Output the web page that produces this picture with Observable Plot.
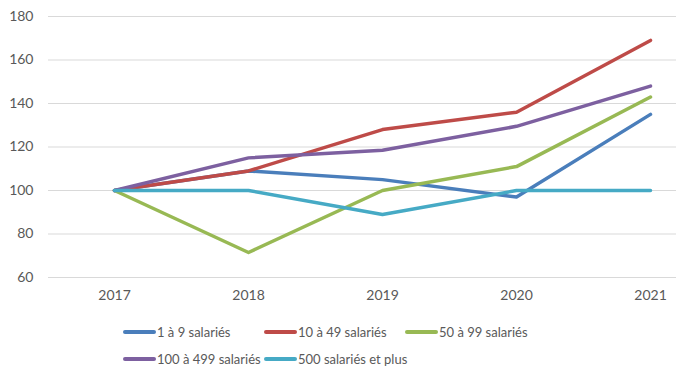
<!DOCTYPE html>
<html><head><meta charset="utf-8">
<script src="https://cdn.jsdelivr.net/npm/d3@7"></script>
<script src="https://cdn.jsdelivr.net/npm/@observablehq/plot@0.6"></script>
<style>
body{margin:0;background:#fff;font-family:Lato,sans-serif;}
#wrap{position:relative;width:676px;height:377px;overflow:hidden;}
#legend{position:absolute;left:123px;top:324px;width:460px;font-size:13px;color:#595959;}
.item{position:absolute;display:flex;align-items:center;white-space:nowrap;}
.sw{width:33px;height:4px;border-radius:2px;margin-right:1px;}
</style></head><body>
<div id="wrap"><div id="chart"></div><div id="legend"></div></div>
<script>
const years = ["2017","2018","2019","2020","2021"];
const seriesNames = ["1 à 9 salariés","10 à 49 salariés","50 à 99 salariés","100 à 499 salariés","500 salariés et plus"];
const s1 = [100,109,105,97,135];
const s2 = [100,109,128,136,169];
const s3 = [100,71.5,100,111,143];
const s4 = [100,115,118.5,129.5,148];
const s5 = [100,100,89,100,100];
const yTicks = [60,80,100,120,140,160,180];
const colors = ["#4a7ebb","#be4b48","#98b954","#7d60a0","#46aac5"];

const all = [s1,s2,s3,s4,s5];
const data = [];
all.forEach((vals,i)=>vals.forEach((v,j)=>data.push({series:seriesNames[i],year:years[j],value:v})));

const chart = Plot.plot({
  width:676, height:310,
  marginLeft:48, marginRight:0, marginTop:16, marginBottom:33,
  style:{fontFamily:"Lato, sans-serif",fontSize:"14px",color:"#595959",background:"transparent"},
  x:{type:"point",domain:years,range:[114,650],padding:0},
  y:{domain:[60,180]},
  color:{domain:seriesNames,range:colors},
  marks:[
    Plot.ruleY(yTicks,{stroke:"#d9d9d9",strokeWidth:1}),
    Plot.axisY({ticks:yTicks,tickSize:0,tickPadding:15,label:null,fontSize:14}),
    Plot.axisX({tickSize:0,tickPadding:13,label:null,fontSize:14}),
    Plot.line(data,{x:"year",y:"value",z:"series",stroke:"series",strokeWidth:3.5,strokeLinejoin:"round",strokeLinecap:"round"})
  ]
});
document.getElementById("chart").appendChild(chart);

const pos = [[0,0],[141,0],[282,0],[0,27],[141,27]];
const leg = document.getElementById("legend");
seriesNames.forEach((n,i)=>{
  const d=document.createElement("div");d.className="item";
  d.style.left=pos[i][0]+"px";d.style.top=pos[i][1]+"px";
  const sw=document.createElement("span");sw.className="sw";sw.style.background=colors[i];
  const t=document.createElement("span");t.textContent=n;
  d.appendChild(sw);d.appendChild(t);leg.appendChild(d);
});
</script></body></html>
